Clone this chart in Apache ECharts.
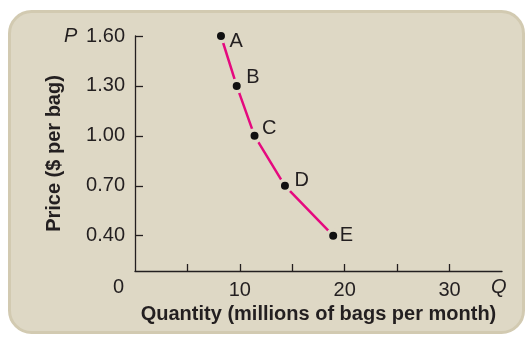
<!DOCTYPE html>
<html>
<head>
<meta charset="utf-8">
<script src="https://cdn.jsdelivr.net/npm/echarts@6/dist/echarts.min.js"></script>
<style>
  html, body { margin: 0; padding: 0; background: #fff; }
  #chart { width: 526px; height: 337px; }
</style>
</head>
<body>
<div id="chart"></div>
<script>
// demand schedule points
const pointNames = ['A', 'B', 'C', 'D', 'E'];
const quantity = [8.2, 9.7, 11.4, 14.3, 18.9];
const price = [1.60, 1.30, 1.00, 0.70, 0.40];

const priceTicks = [0.40, 0.70, 1.00, 1.30, 1.60];
const quantityTicks = [5, 10, 15, 20, 25, 30];
const quantityLabels = [10, 20, 30];

// label nudges (px) for the point letters
const labelOffsets = [[1, 5], [2, -8], [0, -7], [2, -5], [-1, 0]];

const panel = '#ded8c5';
const ink = '#231f20';
const font = '"Liberation Sans", Arial, sans-serif';

const chart = echarts.init(document.getElementById('chart'));

chart.setOption({
  animation: false,
  textStyle: { fontFamily: font },
  grid: { left: 135, right: 24, top: 36, bottom: 66 },
  graphic: [
    {
      type: 'rect', z: -10, silent: true,
      shape: { x: 9.5, y: 11.5, width: 514, height: 321, r: 22 },
      style: { fill: panel, stroke: '#d2cab1', lineWidth: 3 }
    },
    {
      type: 'text', left: 64, top: 26,
      style: { text: 'P', font: 'italic 20px ' + font, fill: ink }
    },
    {
      type: 'text', left: 491, top: 277,
      style: { text: 'Q', font: 'italic 20px ' + font, fill: ink }
    },
    {
      type: 'text', left: 113, top: 277,
      style: { text: '0', font: '20px ' + font, fill: ink }
    }
  ],
  xAxis: {
    type: 'value',
    min: 0,
    max: 35,
    name: 'Quantity (millions of bags per month)',
    nameLocation: 'middle',
    nameGap: 26,
    nameTextStyle: { fontSize: 20, fontWeight: 'bold', color: ink },
    splitLine: { show: false },
    axisLine: { lineStyle: { color: ink, width: 1.3 } },
    axisTick: {
      inside: true, length: 7, customValues: quantityTicks,
      lineStyle: { color: ink, width: 1.3 }
    },
    axisLabel: {
      customValues: quantityLabels, margin: 9,
      fontSize: 20, color: ink
    }
  },
  yAxis: {
    type: 'value',
    min: 0.188,
    max: 1.6,
    name: 'Price ($ per bag)',
    nameLocation: 'middle',
    nameGap: 71,
    nameTextStyle: { fontSize: 20, fontWeight: 'bold', color: ink },
    splitLine: { show: false },
    axisLine: { lineStyle: { color: ink, width: 1.3 } },
    axisTick: {
      inside: true, length: 8, customValues: priceTicks,
      lineStyle: { color: ink, width: 1.3 }
    },
    axisLabel: {
      customValues: priceTicks, margin: 10,
      fontSize: 20, color: ink,
      formatter: v => v.toFixed(2)
    }
  },
  series: [{
    type: 'line',
    data: quantity.map((q, i) => ({
      value: [q, price[i]],
      name: pointNames[i],
      label: { offset: labelOffsets[i] }
    })),
    lineStyle: { color: '#e5097f', width: 2.5 },
    symbol: 'circle',
    symbolSize: 11.5,
    itemStyle: { color: '#111', borderColor: panel, borderWidth: 3.5 },
    label: {
      show: true,
      position: 'right',
      distance: 0,
      formatter: p => p.name,
      fontSize: 20,
      color: ink
    }
  }]
});
</script>
</body>
</html>
